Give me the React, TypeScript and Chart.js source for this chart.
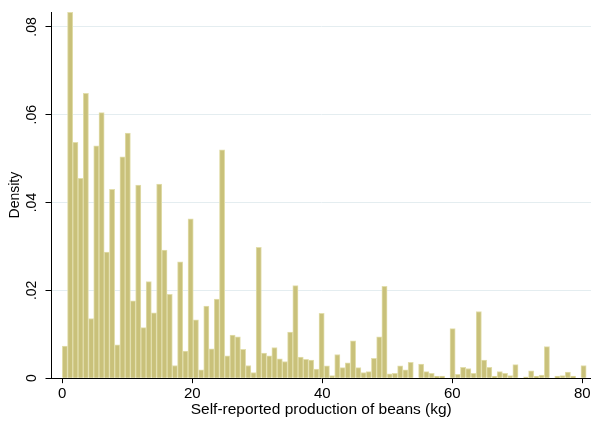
import { useEffect, useRef } from "react";
import { Chart, registerables } from "chart.js";

Chart.register(...registerables);

// Histogram bins: start and width (kg)
const binStart = 0;
const binWidth = 0.806;

// Density of each bin
const density = [
  0.0073, 0.0833, 0.0537, 0.0455, 0.0649, 0.0136, 0.0529, 0.0605, 0.0287, 0.043,
  0.0076, 0.0504, 0.0558, 0.0176, 0.044, 0.0115, 0.022, 0.0149, 0.0442, 0.0292,
  0.0191, 0.0029, 0.0265, 0.0062, 0.0363, 0.0133, 0.0019, 0.0164, 0.0067, 0.018,
  0.052, 0.0051, 0.0098, 0.0094, 0.0066, 0.0029, 0.0013, 0.0298, 0.0057, 0.0051,
  0.007, 0.0044, 0.0038, 0.0105, 0.0211, 0.0048, 0.0043, 0.0041, 0.0021, 0.0148,
  0.0028, 0.0006, 0.0054, 0.0024, 0.0035, 0.0085, 0.0024, 0.0013, 0.0015, 0.0045,
  0.0094, 0.0209, 0.001, 0.0011, 0.0028, 0.0019, 0.0036, 0, 0.0032, 0.0015,
  0.0011, 0.0005, 0.0005, 0, 0.0113, 0.0009, 0.0025, 0.0022, 0.0011, 0.0152,
  0.0041, 0.0025, 0.0005, 0.0015, 0.0011, 0.0006, 0.0031, 0, 0.0003, 0.0017,
  0.0005, 0.0007, 0.0072, 0, 0.0005, 0.0006, 0.0014, 0.0005, 0, 0.0029,
];

const xTickValues = [0, 20, 40, 60, 80];
const yTickValues = [0, 0.02, 0.04, 0.06, 0.08];
const yTickLabels = ["0", ".02", ".04", ".06", ".08"];
const xTitle = "Self-reported production of beans (kg)";
const yTitle = "Density";

const FONT = "'Liberation Sans', Arial, Helvetica, sans-serif";

export default function App() {
  const ref = useRef<HTMLCanvasElement>(null);

  useEffect(() => {
    document.body.style.margin = "0";
    const points = density.map((d, i) => ({ x: binStart + (i + 0.5) * binWidth, y: d }));
    const chart = new Chart(ref.current as HTMLCanvasElement, {
      type: "bar",
      data: {
        datasets: [
          {
            data: points as any,
            backgroundColor: "rgb(201,193,122)",
            borderColor: "rgb(226,222,172)",
            borderWidth: 1,
            barPercentage: 1,
            categoryPercentage: 1,
            grouped: false,
          } as any,
        ],
      },
      options: {
        animation: false,
        responsive: false,
        devicePixelRatio: 1,
        layout: { padding: { top: 12, right: 0, left: 0, bottom: 0 } },
        plugins: { legend: { display: false }, tooltip: { enabled: false } },
        scales: {
          x: {
            type: "linear",
            min: -1.66,
            max: 81.34,
            offset: false,
            afterBuildTicks: (s: any) => {
              s.ticks = xTickValues.map((v) => ({ value: v }));
            },
            afterFit: (s: any) => {
              s.height = 42.8;
              s.paddingLeft = 0;
              s.paddingRight = 0;
            },
            ticks: {
              color: "#000",
              font: { family: FONT, size: 15 },
              padding: 2,
              maxRotation: 0,
              autoSkip: false,
              callback: (v: any) => String(v),
            },
            grid: { offset: false, drawOnChartArea: false, tickLength: 5, tickColor: "#000", tickWidth: 1 },
            border: { color: "#000", width: 1 },
            title: {
              display: true,
              text: xTitle,
              color: "#000",
              font: { family: FONT, size: 15.5 },
              padding: { top: 0, bottom: 2 },
            },
          },
          y: {
            type: "linear",
            min: 0,
            max: 0.0834,
            afterBuildTicks: (s: any) => {
              s.ticks = yTickValues.map((v) => ({ value: v }));
            },
            afterFit: (s: any) => {
              s.width = 51.5;
              s.paddingTop = 0;
              s.paddingBottom = 0;
            },
            ticks: {
              color: "#000",
              font: { family: FONT, size: 14 },
              padding: 4,
              minRotation: 90,
              maxRotation: 90,
              crossAlign: "center",
              autoSkip: false,
              callback: (v: any) => yTickLabels[yTickValues.indexOf(v)] ?? "",
            },
            grid: {
              offset: false,
              color: (c: any) => (c.tick && c.tick.value === 0 ? "rgba(0,0,0,0)" : "rgb(228,237,240)"),
              tickColor: "#000",
              tickLength: 6,
              lineWidth: 1,
            },
            border: { color: "#000", width: 1 },
            title: {
              display: true,
              text: yTitle,
              color: "#000",
              font: { family: FONT, size: 14 },
              padding: { top: 7, bottom: 0 },
            },
          },
        },
      },
    });
    return () => chart.destroy();
  }, []);

  return <canvas ref={ref} width={591} height={421} style={{ display: "block" }} />;
}
